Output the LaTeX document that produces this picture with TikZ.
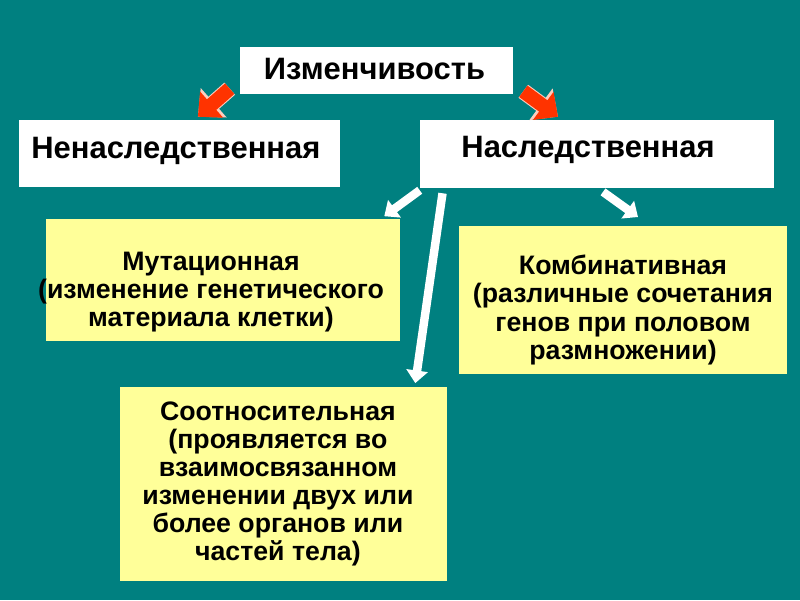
\documentclass[tikz,border=0pt]{standalone}
\usepackage{fontspec}
\setmainfont{Liberation Sans}
\usepackage{tikz}
\usetikzlibrary{arrows.meta,calc,positioning}
\definecolor{slideteal}{RGB}{0,128,128}
\definecolor{boxyellow}{RGB}{255,255,153}
\definecolor{arrowred}{RGB}{255,51,0}
\definecolor{arrowrim}{RGB}{255,205,190}

\begin{document}
\begin{tikzpicture}[
  whitebox/.style={fill=white, inner sep=0pt},
  yellowbox/.style={fill=boxyellow, inner sep=0pt},
  bigtext/.style={font=\fontsize{22}{26}\selectfont\bfseries, inner sep=0pt},
  smalltext/.style={font=\fontsize{19}{20}\selectfont\bfseries, align=center, inner sep=0pt},
  redrim/.style={arrowrim, line width=11.5pt, -{Triangle[width=27pt,length=15pt]}},
  redarrow/.style={arrowred, line width=10pt, -{Triangle[width=24pt,length=13pt]}},
  whitearrow/.style={white, line width=6pt, -{Triangle[width=15pt,length=9pt]}}]
\fill[slideteal] (0,0) rectangle (20,15);
\useasboundingbox (0,0) rectangle (20,15);

\node[whitebox, minimum width=6.825cm, minimum height=1.175cm] (Top) at (9.4125,13.2375) {};
\node[whitebox, minimum width=8.025cm, minimum height=1.675cm] (NonHer) at (4.4875,11.1625) {};
\node[whitebox, minimum width=8.85cm, minimum height=1.7cm] (Her) at (14.925,11.15) {};
\node[yellowbox, minimum width=8.85cm, minimum height=3.025cm] (Mut) at (5.575,8.0) {};
\node[yellowbox, minimum width=8.2cm, minimum height=3.675cm] (Comb) at (15.575,7.5) {};
\node[yellowbox, minimum width=8.175cm, minimum height=4.85cm] (Corr) at (7.0875,2.9) {};

\node[bigtext] (TopText) at ([xshift=-0.05cm,yshift=0.04cm]Top) {Изменчивость};
\node[bigtext] (NonHerText) at ([xshift=-0.09cm,yshift=0.06cm]NonHer) {Ненаследственная};
\node[bigtext] (HerText) at ([xshift=-0.225cm,yshift=0.09cm]Her) {Наследственная};
\node[smalltext] (MutText) at ([xshift=-0.3cm,yshift=-0.3cm]Mut)
  {Мутационная\\(изменение генетического\\материала клетки)};
\node[smalltext] (CombText) at ([yshift=-0.25cm]Comb)
  {Комбинативная\\(различные сочетания\\генов при половом\\размножении)};
\node[smalltext] (CorrText) at ([xshift=-0.14cm]Corr)
  {Соотносительная\\(проявляется во\\взаимосвязанном\\изменении двух или\\более органов или\\частей тела)};

\draw[redrim] ($(Top.south west)+(-0.25,0.14)$) -- ($(NonHer.north)+(0.46,0.075)$);
\draw[redarrow] ($(Top.south west)+(-0.25,0.14)$) -- ($(NonHer.north)+(0.46,0.075)$);
\draw[redrim] ($(Top.south east)+(0.25,0.075)$) -- ($(Her.north)+(-0.975,0.075)$);
\draw[redarrow] ($(Top.south east)+(0.25,0.075)$) -- ($(Her.north)+(-0.975,0.075)$);
\draw[whitearrow] ($(Her.south west)+(0,-0.05)$) -- ($(Mut.north east)+(-0.4,0.075)$);
\draw[whitearrow] ($(Her.south west)+(0.57,-0.125)$) -- ($(Corr.north east)+(-0.8,0.09)$);
\draw[whitearrow] ($(Her.south)+(0.15,-0.09)$) -- ($(Comb.north)+(0.375,0.23)$);
\end{tikzpicture}
\end{document}
